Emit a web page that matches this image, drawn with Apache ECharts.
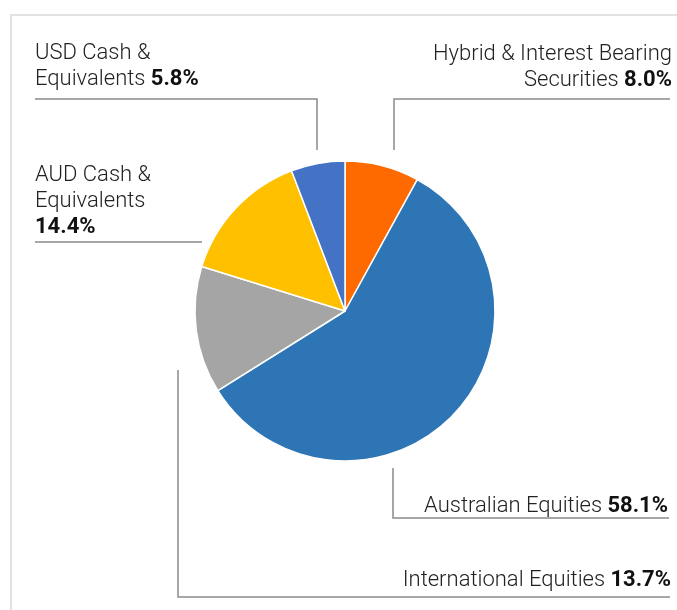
<!DOCTYPE html>
<html>
<head>
<meta charset="utf-8">
<script src="https://cdn.jsdelivr.net/npm/echarts@6/dist/echarts.min.js"></script>
<style>
html,body{margin:0;padding:0;background:#fff;}
#chart{width:677px;height:610px;}
</style>
</head>
<body>
<div id="chart"></div>
<script>
// ---- data ----
var categories = [
  'Hybrid & Interest Bearing\nSecurities',
  'Australian Equities',
  'International Equities',
  'AUD Cash &\nEquivalents',
  'USD Cash &\nEquivalents'
];
var values = [8.0, 58.1, 13.7, 14.4, 5.8];
var colors = ['#FF6A00', '#2E75B6', '#A5A5A5', '#FFC000', '#4472C4'];

// ---- label placement (layout only) ----
var labelPlacement = {
  'Hybrid & Interest Bearing\nSecurities': {x: 672, y: 93, align: 'right', pctBreak: false,
    line: [[394, 150], [394, 99], [670, 99]]},
  'Australian Equities': {x: 668, y: 519, align: 'right', pctBreak: false,
    line: [[393, 468], [393, 518], [669, 518]]},
  'International Equities': {x: 671, y: 593, align: 'right', pctBreak: false,
    line: [[178, 370], [178, 597], [670, 597]]},
  'AUD Cash &\nEquivalents': {x: 35, y: 240, align: 'left', pctBreak: true,
    line: [[202, 242], [202, 242], [35, 242]]},
  'USD Cash &\nEquivalents': {x: 35, y: 92, align: 'left', pctBreak: false,
    line: [[317, 150], [317, 99], [35, 99]]}
};

var FONT = 'Roboto, "Liberation Sans", sans-serif';

var chart = echarts.init(document.getElementById('chart'), null, {renderer: 'canvas'});

var data = categories.map(function (c, i) {
  return {name: c, value: values[i], itemStyle: {color: colors[i]}};
});

chart.setOption({
  animation: false,
  backgroundColor: '#fff',
  graphic: [{
    type: 'rect',
    shape: {x: 11, y: 15, width: 800, height: 800},
    style: {fill: 'none', stroke: '#e2e2e2', lineWidth: 2},
    silent: true,
    z: -1
  }],
  series: [{
    type: 'pie',
    center: [345, 311],
    radius: 150,
    startAngle: 90,
    clockwise: true,
    avoidLabelOverlap: false,
    itemStyle: {borderColor: '#fff', borderWidth: 1.5},
    label: {
      show: true,
      position: 'outside',
      formatter: function (p) {
        var pl = labelPlacement[p.name];
        var lines = p.name.split('\n').map(function (s) { return '{n|' + s + '}'; });
        var pct = '{b|' + p.value.toFixed(1) + '%}';
        if (pl.pctBreak) {
          lines.push(pct);
        } else {
          lines[lines.length - 1] = lines[lines.length - 1].replace(/\}$/, ' }') + pct;
        }
        return lines.join('\n');
      },
      rich: {
        n: {fontFamily: FONT, fontSize: 22, fontWeight: 300, color: '#222', lineHeight: 26},
        b: {fontFamily: FONT, fontSize: 22, fontWeight: 'bold', color: '#111', lineHeight: 26}
      }
    },
    labelLine: {
      show: true,
      smooth: false,
      lineStyle: {color: '#8a8a8a', width: 1.5}
    },
    labelLayout: function (params) {
      var name = categories[params.dataIndex];
      var pl = labelPlacement[name];
      return {
        x: pl.x,
        y: pl.y,
        align: pl.align,
        verticalAlign: 'bottom',
        labelLinePoints: pl.line
      };
    },
    emphasis: {disabled: true},
    data: data
  }]
});
</script>
</body>
</html>
